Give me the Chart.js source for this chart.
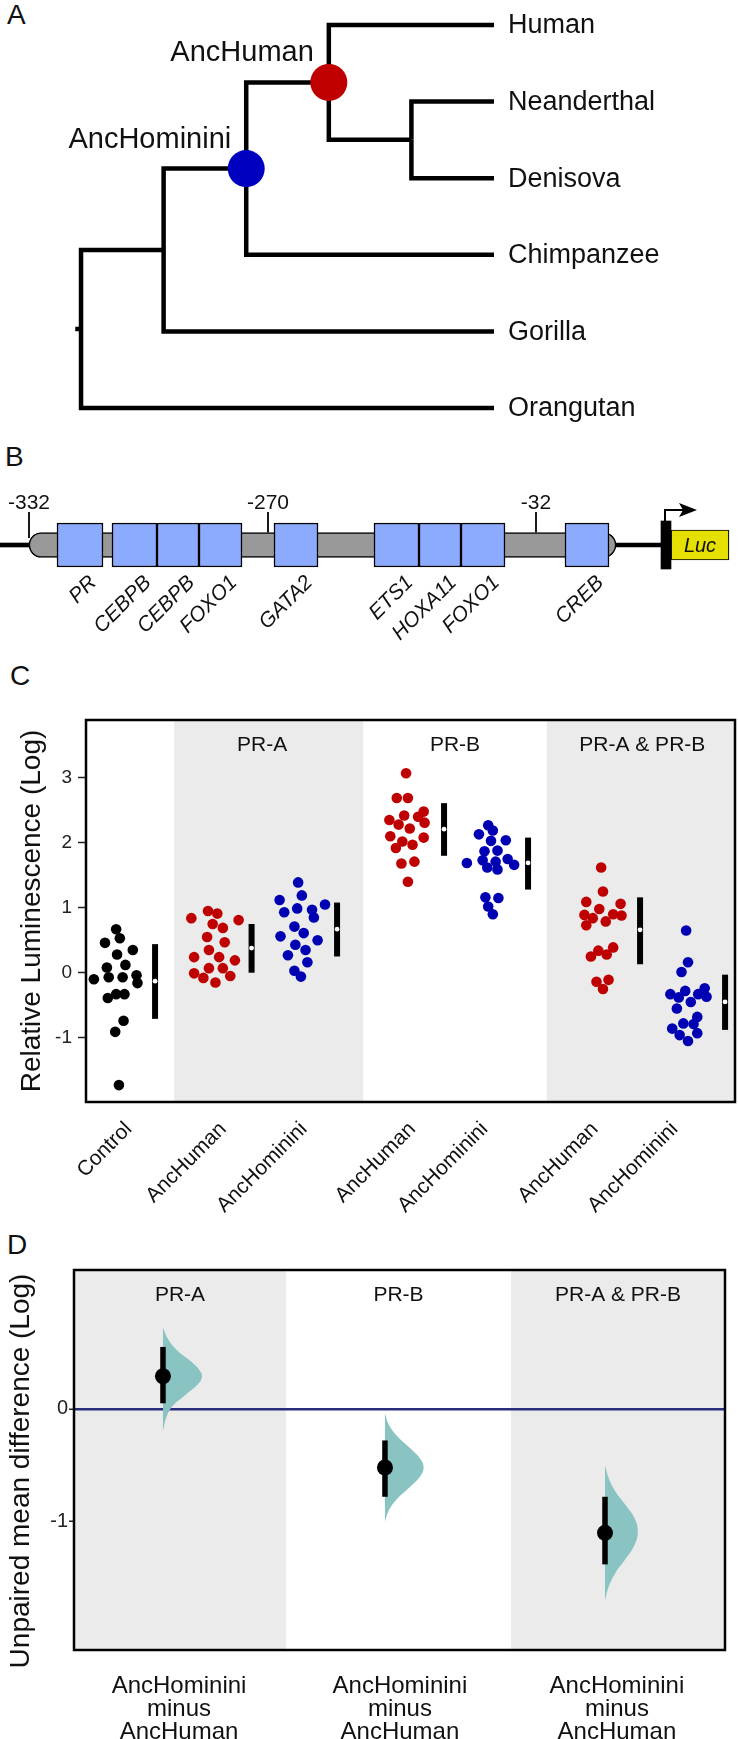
<!DOCTYPE html>
<html>
<head>
<meta charset="utf-8">
<script src="https://cdn.jsdelivr.net/npm/chart.js@4.4.0/dist/chart.umd.min.js"></script>
<style>
  html, body { margin: 0; padding: 0; background: #fff; }
  body { width: 738px; height: 1739px; position: relative; overflow: hidden; font-family: "Liberation Sans", Arial, Helvetica, sans-serif; }
  canvas { position: absolute; left: 0; }
  .letter { position: absolute; font-size: 28px; line-height: 28px; color: #111; }
</style>
</head>
<body>
<div class="letter" style="left:7px;top:1px">A</div>
<div class="letter" style="left:5px;top:443px">B</div>
<div class="letter" style="left:10px;top:662px">C</div>
<div class="letter" style="left:7px;top:1231px">D</div>

<canvas id="tree" width="738" height="440" style="top:0px"></canvas>
<canvas id="promoter" width="738" height="250" style="top:430px"></canvas>
<canvas id="lum" width="738" height="590" style="top:640px"></canvas>
<canvas id="diff" width="738" height="519" style="top:1220px"></canvas>

<script>
// ---------- panel A: tree ----------
const treeTopology = [[[['Human', ['Neanderthal', 'Denisova']], 'Chimpanzee'], 'Gorilla'], 'Orangutan'];
const ancestorNames = ['AncHuman', 'AncHominini'];
const ancestorMembers = [
  ['Human', 'Neanderthal', 'Denisova'],
  ['Human', 'Neanderthal', 'Denisova', 'Chimpanzee']
];
const ancestorColors = ['#c00000', '#0000c0'];
const tipDepth = 5;
const rootEdge = 0.07;

// ---------- panel B: promoter ----------
const siteNames = ['PR', 'CEBPB', 'CEBPB', 'FOXO1', 'GATA2', 'ETS1', 'HOXA11', 'FOXO1', 'CREB'];
const siteStart = [57, 112, 157, 199, 274, 374, 419, 461, 565];
const siteEnd = [103, 157, 199, 242, 318, 419, 461, 505, 609];
const promoterSpan = [29, 616];
const wireSpans = [[0, 29], [616, 661]];
const positionLabels = [-332, -270, -32];
const positionAt = [29, 268, 536];
const tssSpan = [661, 671];
const lucSpan = [671, 729];

// ---------- panel C: luminescence ----------
const groupNames = ['Control', 'AncHuman', 'AncHominini', 'AncHuman', 'AncHominini', 'AncHuman', 'AncHominini'];
const groupX = [0.345, 1.386, 2.308, 3.462, 4.368, 5.576, 6.493];
const groupLabelX = [0.46, 1.48, 2.35, 3.52, 4.30, 5.49, 6.35];
const groupColors = ['#000000', '#bf0000', '#0000b3', '#bf0000', '#0000b3', '#bf0000', '#0000b3'];

const controlLum = [0.67, 0.53, 0.46, 0.35, 0.28, 0.12, 0.08, -0.10, -0.07, -0.07, -0.04, -0.16, -0.39, -0.33, -0.33, -0.74, -0.91, -1.73];
const prAHumanLum = [0.84, 0.95, 0.91, 0.81, 0.75, 0.69, 0.55, 0.47, 0.35, 0.24, 0.24, 0.19, 0.07, 0.07, -0.01, -0.05, -0.08, -0.15];
const prAHomLum = [1.39, 1.19, 1.12, 1.05, 0.93, 0.99, 0.97, 0.85, 0.71, 0.61, 0.56, 0.50, 0.43, 0.35, 0.27, 0.16, 0.03, -0.06];
const prBHumanLum = [3.07, 2.69, 2.69, 2.48, 2.35, 2.42, 2.40, 2.28, 2.31, 2.22, 2.10, 2.02, 2.08, 1.92, 1.97, 1.68, 1.71, 1.40];
const prBHomLum = [2.27, 2.19, 2.13, 2.03, 2.04, 1.87, 1.88, 1.69, 1.73, 1.71, 1.75, 1.66, 1.62, 1.59, 1.16, 1.15, 1.02, 0.90];
const prABHumanLum = [1.62, 1.25, 1.09, 1.06, 0.98, 0.89, 0.84, 0.90, 0.88, 0.79, 0.73, 0.39, 0.34, 0.28, 0.25, -0.14, -0.11, -0.25];
const prABHomLum = [0.65, 0.16, 0.01, -0.24, -0.28, -0.33, -0.33, -0.37, -0.38, -0.45, -0.55, -0.68, -0.78, -0.79, -0.86, -0.93, -0.96, -1.05];

// swarm offsets (x-axis units)
const controlSwarm = [-0.02, 0.02, -0.14, 0.16, -0.01, 0.08, -0.12, -0.26, -0.10, 0.05, 0.20, 0.21, -0.11, -0.02, 0.07, 0.06, -0.03, 0.01];
const prAHumanSwarm = [-0.25, -0.07, 0.03, 0.26, -0.02, 0.09, -0.08, 0.11, -0.06, -0.22, 0.05, 0.22, -0.06, 0.09, -0.22, 0.17, -0.12, 0.01];
const prAHomSwarm = [-0.02, 0.02, -0.22, 0.27, -0.17, -0.03, 0.13, 0.15, -0.06, 0.04, -0.21, 0.19, -0.05, 0.06, -0.13, 0.08, -0.06, 0.01];
const prBHumanSwarm = [-0.01, -0.11, 0.01, 0.18, -0.19, -0.03, 0.12, -0.09, 0.19, 0.03, -0.18, -0.05, 0.18, -0.12, 0.06, -0.06, 0.08, 0.01];
const prBHomSwarm = [-0.03, 0.02, -0.13, 0.00, 0.16, -0.07, 0.07, -0.26, -0.09, 0.05, 0.18, 0.25, -0.04, 0.07, -0.06, 0.08, -0.03, 0.02];
const prABHumanSwarm = [-0.02, 0.00, -0.18, 0.19, -0.04, -0.20, -0.11, 0.11, 0.20, 0.03, -0.18, 0.11, -0.05, 0.04, -0.13, -0.07, 0.06, 0.00];
const prABHomSwarm = [-0.02, 0.00, -0.07, 0.18, -0.03, -0.19, 0.11, 0.20, -0.10, 0.03, -0.12, 0.10, -0.05, 0.06, -0.17, 0.10, -0.09, 0.00];

const groupValues = [controlLum, prAHumanLum, prAHomLum, prBHumanLum, prBHomLum, prABHumanLum, prABHomLum];
const groupSwarm = [controlSwarm, prAHumanSwarm, prAHomSwarm, prBHumanSwarm, prBHomSwarm, prABHumanSwarm, prABHomSwarm];
const groupMean = [-0.13, 0.38, 0.67, 2.21, 1.69, 0.66, -0.45];
const groupLow = [-0.71, 0.00, 0.25, 1.80, 1.28, 0.13, -0.88];
const groupHigh = [0.44, 0.75, 1.08, 2.61, 2.08, 1.16, -0.03];
const summaryShift = 0.40;

const treatments = ['PR-A', 'PR-B', 'PR-A & PR-B'];
const lumTitleX = [1.90, 3.98, 6.00];
const lumShaded = [[0.95, 2.99], [4.97, 7]];
const lumTicks = [-1, 0, 1, 2, 3];

// ---------- panel D: mean differences ----------
const contrastLabels = [['AncHominini', 'minus', 'AncHuman'], ['AncHominini', 'minus', 'AncHuman'], ['AncHominini', 'minus', 'AncHuman']];
const contrastTickX = [0.484, 1.502, 2.502];
const contrastX = [0.41, 1.433, 2.447];
const meanDiff = [0.29, -0.52, -1.10];
const diffLow = [0.05, -0.78, -1.38];
const diffHigh = [0.55, -0.28, -0.78];
const bootY = [
  [0.72, 0.62, 0.52, 0.42, 0.35, 0.29, 0.22, 0.12, 0.02, -0.08, -0.20],
  [-0.04, -0.14, -0.24, -0.34, -0.44, -0.52, -0.60, -0.70, -0.80, -0.90, -1.00],
  [-0.50, -0.62, -0.74, -0.86, -0.98, -1.10, -1.22, -1.34, -1.46, -1.58, -1.70]
];
const bootDensity = [
  [0, 0.13, 0.36, 0.72, 0.92, 1.00, 0.90, 0.56, 0.23, 0.08, 0],
  [0, 0.10, 0.31, 0.62, 0.90, 0.99, 0.90, 0.62, 0.31, 0.10, 0],
  [0, 0.10, 0.28, 0.54, 0.77, 0.84, 0.74, 0.51, 0.26, 0.09, 0]
];
const diffShaded = [[0, 0.977], [2.014, 3]];
const diffTicks = [-1, 0];

// ---------- common ----------
const FONT = '"Liberation Sans", Arial, Helvetica, sans-serif';
Chart.defaults.font.family = FONT;
Chart.defaults.color = '#111';
Chart.defaults.plugins.legend.display = false;
Chart.defaults.plugins.tooltip.enabled = false;
const BAND = '#ebebeb';

function frame(chart, w) {
  const {ctx, chartArea: a} = chart;
  ctx.save();
  ctx.strokeStyle = '#000';
  ctx.lineWidth = w;
  ctx.strokeRect(a.left, a.top, a.right - a.left, a.bottom - a.top);
  ctx.restore();
}
function bands(chart, list) {
  const {ctx, chartArea: a, scales: {x}} = chart;
  ctx.save();
  ctx.fillStyle = BAND;
  list.forEach(b => {
    const l = x.getPixelForValue(b[0]), r = x.getPixelForValue(b[1]);
    ctx.fillRect(l, a.top, r - l, a.bottom - a.top);
  });
  ctx.restore();
}

// ================= A: tree =================
let leafCounter = 0;
const treeNodes = [];
const branches = [];
function layout(n, depth) {
  if (typeof n === 'string') {
    const leaf = {x: tipDepth, y: leafCounter++, tip: n, leaves: [n]};
    treeNodes.push(leaf);
    return leaf;
  }
  const kids = n.map(c => layout(c, depth + 1));
  const node = {x: depth, y: (kids[0].y + kids[kids.length - 1].y) / 2, leaves: kids.flatMap(k => k.leaves)};
  kids.forEach(k => branches.push([{x: depth, y: node.y}, {x: depth, y: k.y}, {x: k.x, y: k.y}]));
  treeNodes.push(node);
  return node;
}
const treeRoot = layout(treeTopology, 0);
branches.push([{x: -rootEdge, y: treeRoot.y}, {x: 0, y: treeRoot.y}]);
const ancestorNodes = ancestorMembers.map(m => treeNodes.find(n => n.leaves.length === m.length && m.every(l => n.leaves.includes(l))));

new Chart(document.getElementById('tree'), {
  type: 'scatter',
  data: {
    datasets: [
      {
        data: ancestorNodes.map(n => ({x: n.x, y: n.y})),
        pointRadius: 18.5, pointBackgroundColor: ancestorColors, pointBorderWidth: 0, order: 0
      },
      ...branches.map(b => ({
        data: b, showLine: true, borderColor: '#000', borderWidth: 4.5, pointRadius: 0,
        borderJoinStyle: 'miter', borderCapStyle: 'butt', order: 1
      }))
    ]
  },
  options: {
    responsive: false, animation: false,
    layout: {padding: 0, autoPadding: false},
    scales: {
      x: {type: 'linear', display: false, min: -0.981, max: 7.954},
      y: {type: 'linear', display: false, min: -0.326, max: 5.418, reverse: true}
    }
  },
  plugins: [{
    id: 'treeLabels',
    afterDatasetsDraw(chart) {
      const {ctx, scales: {x, y}} = chart;
      ctx.save();
      ctx.fillStyle = '#111';
      ctx.font = '27px ' + FONT;
      ctx.textBaseline = 'middle';
      ctx.textAlign = 'left';
      treeNodes.filter(n => n.tip).forEach(n => {
        ctx.fillText(n.tip, x.getPixelForValue(n.x) + 14, y.getPixelForValue(n.y) + 1);
      });
      ctx.font = '29px ' + FONT;
      ctx.textAlign = 'right';
      ancestorNodes.forEach((n, i) => {
        ctx.fillText(ancestorNames[i], x.getPixelForValue(n.x) - 15, y.getPixelForValue(n.y) - 29);
      });
      ctx.restore();
    }
  }]
});

// ================= B: promoter =================
new Chart(document.getElementById('promoter'), {
  type: 'bar',
  data: {
    labels: ['promoter'],
    datasets: [
      ...wireSpans.map(s => ({data: [s], backgroundColor: '#000', barThickness: 4, order: 6})),
      {data: [promoterSpan], backgroundColor: '#999999', borderColor: '#000', borderWidth: 1.5,
       borderSkipped: false, borderRadius: 12.5, barThickness: 25, order: 5},
      ...siteNames.map((n, i) => ({data: [[siteStart[i], siteEnd[i]]], backgroundColor: '#8cabff',
       borderColor: '#000', borderWidth: 1.5, borderSkipped: false, barThickness: 44, order: 1})),
      {data: [tssSpan], backgroundColor: '#000', barThickness: 48, order: 2},
      {data: [lucSpan], backgroundColor: '#e6e000', borderColor: '#000', borderWidth: 1.2,
       borderSkipped: false, barThickness: 30, order: 2}
    ]
  },
  options: {
    responsive: false, animation: false, indexAxis: 'y',
    layout: {padding: {top: 0, bottom: 20, left: 0, right: 0}, autoPadding: false},
    datasets: {bar: {grouped: false}},
    scales: {
      x: {type: 'linear', display: false, min: 0, max: 738},
      y: {display: false}
    }
  },
  plugins: [{
    id: 'promoterText',
    afterDatasetsDraw(chart) {
      const {ctx, chartArea: a, scales: {x}} = chart;
      const cy = (a.top + a.bottom) / 2;
      ctx.save();
      ctx.strokeStyle = '#000';
      ctx.fillStyle = '#111';
      ctx.lineWidth = 1.8;
      ctx.font = '21px ' + FONT;
      ctx.textAlign = 'center';
      ctx.textBaseline = 'alphabetic';
      positionAt.forEach((p, i) => {
        const px = x.getPixelForValue(p);
        ctx.beginPath();
        ctx.moveTo(px, cy - 33);
        ctx.lineTo(px, cy - (i === 0 ? 7 : 12.5));
        ctx.stroke();
        ctx.fillText(String(positionLabels[i]), px, cy - 36);
      });
      // site names
      ctx.font = 'italic 21px ' + FONT;
      ctx.textAlign = 'right';
      ctx.textBaseline = 'top';
      siteNames.forEach((n, i) => {
        const c = x.getPixelForValue((siteStart[i] + siteEnd[i]) / 2);
        ctx.save();
        ctx.translate(c + 6, cy + 27);
        ctx.rotate(-Math.PI / 4);
        ctx.fillText(n, 0, 0);
        ctx.restore();
      });
      // Luc
      ctx.font = 'italic 20px ' + FONT;
      ctx.textAlign = 'center';
      ctx.textBaseline = 'middle';
      ctx.fillText('Luc', x.getPixelForValue((lucSpan[0] + lucSpan[1]) / 2), cy + 1);
      // arrow
      const tx = x.getPixelForValue((tssSpan[0] + tssSpan[1]) / 2) - 1;
      ctx.lineWidth = 2;
      ctx.beginPath();
      ctx.moveTo(tx, cy - 22);
      ctx.lineTo(tx, cy - 35);
      ctx.lineTo(tx + 18, cy - 35);
      ctx.stroke();
      ctx.fillStyle = '#000';
      ctx.beginPath();
      ctx.moveTo(tx + 32, cy - 35);
      ctx.lineTo(tx + 14, cy - 42);
      ctx.lineTo(tx + 18, cy - 35);
      ctx.lineTo(tx + 14, cy - 28);
      ctx.closePath();
      ctx.fill();
      ctx.restore();
    }
  }]
});

// ================= C: luminescence =================
const lumDatasets = [];
groupValues.forEach((vals, g) => {
  lumDatasets.push({
    data: vals.map((v, i) => ({x: groupX[g] + groupSwarm[g][i], y: v})),
    pointRadius: 5.3, pointBackgroundColor: groupColors[g], pointBorderWidth: 0, order: 3
  });
  lumDatasets.push({
    data: [{x: groupX[g] + summaryShift, y: groupLow[g]}, {x: groupX[g] + summaryShift, y: groupHigh[g]}],
    showLine: true, borderColor: '#000', borderWidth: 6, pointRadius: 0, borderCapStyle: 'butt', order: 2
  });
  lumDatasets.push({
    data: [{x: groupX[g] + summaryShift, y: groupMean[g]}],
    pointRadius: 2.4, pointBackgroundColor: '#fff', pointBorderWidth: 0, order: 1
  });
});

new Chart(document.getElementById('lum'), {
  type: 'scatter',
  data: {datasets: lumDatasets},
  options: {
    responsive: false, animation: false,
    layout: {padding: {top: 80, right: 3, left: 0, bottom: 0}, autoPadding: false},
    scales: {
      x: {
        type: 'linear', min: 0, max: 7,
        afterBuildTicks: s => { s.ticks = groupLabelX.map(v => ({value: v})); },
        afterFit: s => { s.height = 128; },
        ticks: {
          autoSkip: false, minRotation: 45, maxRotation: 45, padding: 7,
          font: {size: 21}, color: '#111',
          callback: (v, i) => groupNames[i]
        },
        grid: {display: false},
        border: {display: false}
      },
      y: {
        type: 'linear', min: -1.99, max: 3.89,
        afterBuildTicks: s => { s.ticks = lumTicks.map(v => ({value: v})); },
        afterFit: s => { s.width = 86; },
        ticks: {font: {size: 19}, color: '#222', padding: 6},
        grid: {drawOnChartArea: false, tickLength: 8, color: '#222', tickWidth: 1.5},
        border: {display: false},
        title: {display: true, text: 'Relative Luminescence (Log)', font: {size: 28}, color: '#111', padding: {top: 15, bottom: 0}}
      }
    }
  },
  plugins: [{
    id: 'lumDecor',
    beforeDatasetsDraw(chart) {
      bands(chart, lumShaded);
      const {ctx, chartArea: a, scales: {x}} = chart;
      ctx.save();
      ctx.fillStyle = '#111';
      ctx.font = '21px ' + FONT;
      ctx.textAlign = 'center';
      ctx.textBaseline = 'middle';
      treatments.forEach((t, i) => ctx.fillText(t, x.getPixelForValue(lumTitleX[i]), a.top + 25));
      ctx.restore();
    },
    afterDraw(chart) { frame(chart, 2.5); }
  }]
});

// ================= D: mean differences =================
const bootScale = 0.18;
const diffDatasets = [];
meanDiff.forEach((m, i) => {
  diffDatasets.push({
    data: bootY[i].map((v, k) => ({x: contrastX[i] + bootDensity[i][k] * bootScale, y: v})),
    showLine: true, fill: 'shape', backgroundColor: '#8ac4c2', borderWidth: 0, borderColor: 'rgba(0,0,0,0)',
    pointRadius: 0, tension: 0.4, order: 3
  });
  diffDatasets.push({
    data: [{x: contrastX[i], y: diffLow[i]}, {x: contrastX[i], y: diffHigh[i]}],
    showLine: true, borderColor: '#000', borderWidth: 5.5, pointRadius: 0, borderCapStyle: 'butt', order: 2
  });
  diffDatasets.push({
    data: [{x: contrastX[i], y: m}],
    pointRadius: 8, pointBackgroundColor: '#000', pointBorderWidth: 0, order: 1
  });
});

const diffCentres = [
  (diffShaded[0][0] + diffShaded[0][1]) / 2,
  (diffShaded[0][1] + diffShaded[1][0]) / 2,
  (diffShaded[1][0] + diffShaded[1][1]) / 2
];

new Chart(document.getElementById('diff'), {
  type: 'scatter',
  data: {datasets: diffDatasets},
  options: {
    responsive: false, animation: false,
    layout: {padding: {top: 50, right: 13, left: 0, bottom: 0}, autoPadding: false},
    scales: {
      x: {
        type: 'linear', min: 0, max: 3,
        afterBuildTicks: s => { s.ticks = contrastTickX.map(v => ({value: v})); },
        afterFit: s => { s.height = 89; },
        ticks: {
          autoSkip: false, minRotation: 0, maxRotation: 0, padding: 17,
          font: {size: 24, lineHeight: 0.95}, color: '#111',
          callback: (v, i) => contrastLabels[i]
        },
        grid: {display: false},
        border: {display: false}
      },
      y: {
        type: 'linear', min: -2.14, max: 1.233,
        afterBuildTicks: s => { s.ticks = diffTicks.map(v => ({value: v})); },
        afterFit: s => { s.width = 74; },
        ticks: {font: {size: 20}, color: '#222', padding: 1},
        grid: {
          color: c => (c.tick && c.tick.value === 0) ? '#2b2e7e' : 'rgba(0,0,0,0)',
          lineWidth: 2.5, tickColor: '#222', tickLength: 5, tickWidth: 1.5
        },
        border: {display: false}
      }
    }
  },
  plugins: [{
    id: 'diffDecor',
    beforeDraw(chart) {
      bands(chart, diffShaded);
      const {ctx, chartArea: a, scales: {x}} = chart;
      ctx.save();
      ctx.fillStyle = '#111';
      ctx.font = '21px ' + FONT;
      ctx.textAlign = 'center';
      ctx.textBaseline = 'middle';
      treatments.forEach((t, i) => ctx.fillText(t, x.getPixelForValue(diffCentres[i]), a.top + 25));
      ctx.restore();
    },
    afterDraw(chart) {
      frame(chart, 2.5);
      const {ctx, chartArea: a} = chart;
      ctx.save();
      ctx.fillStyle = '#111';
      ctx.font = '28px ' + FONT;
      ctx.textAlign = 'center';
      ctx.textBaseline = 'middle';
      ctx.translate(21, (a.top + a.bottom) / 2 + 11);
      ctx.rotate(-Math.PI / 2);
      ctx.fillText('Unpaired mean difference (Log)', 0, 0);
      ctx.restore();
    }
  }]
});
</script>
</body>
</html>
